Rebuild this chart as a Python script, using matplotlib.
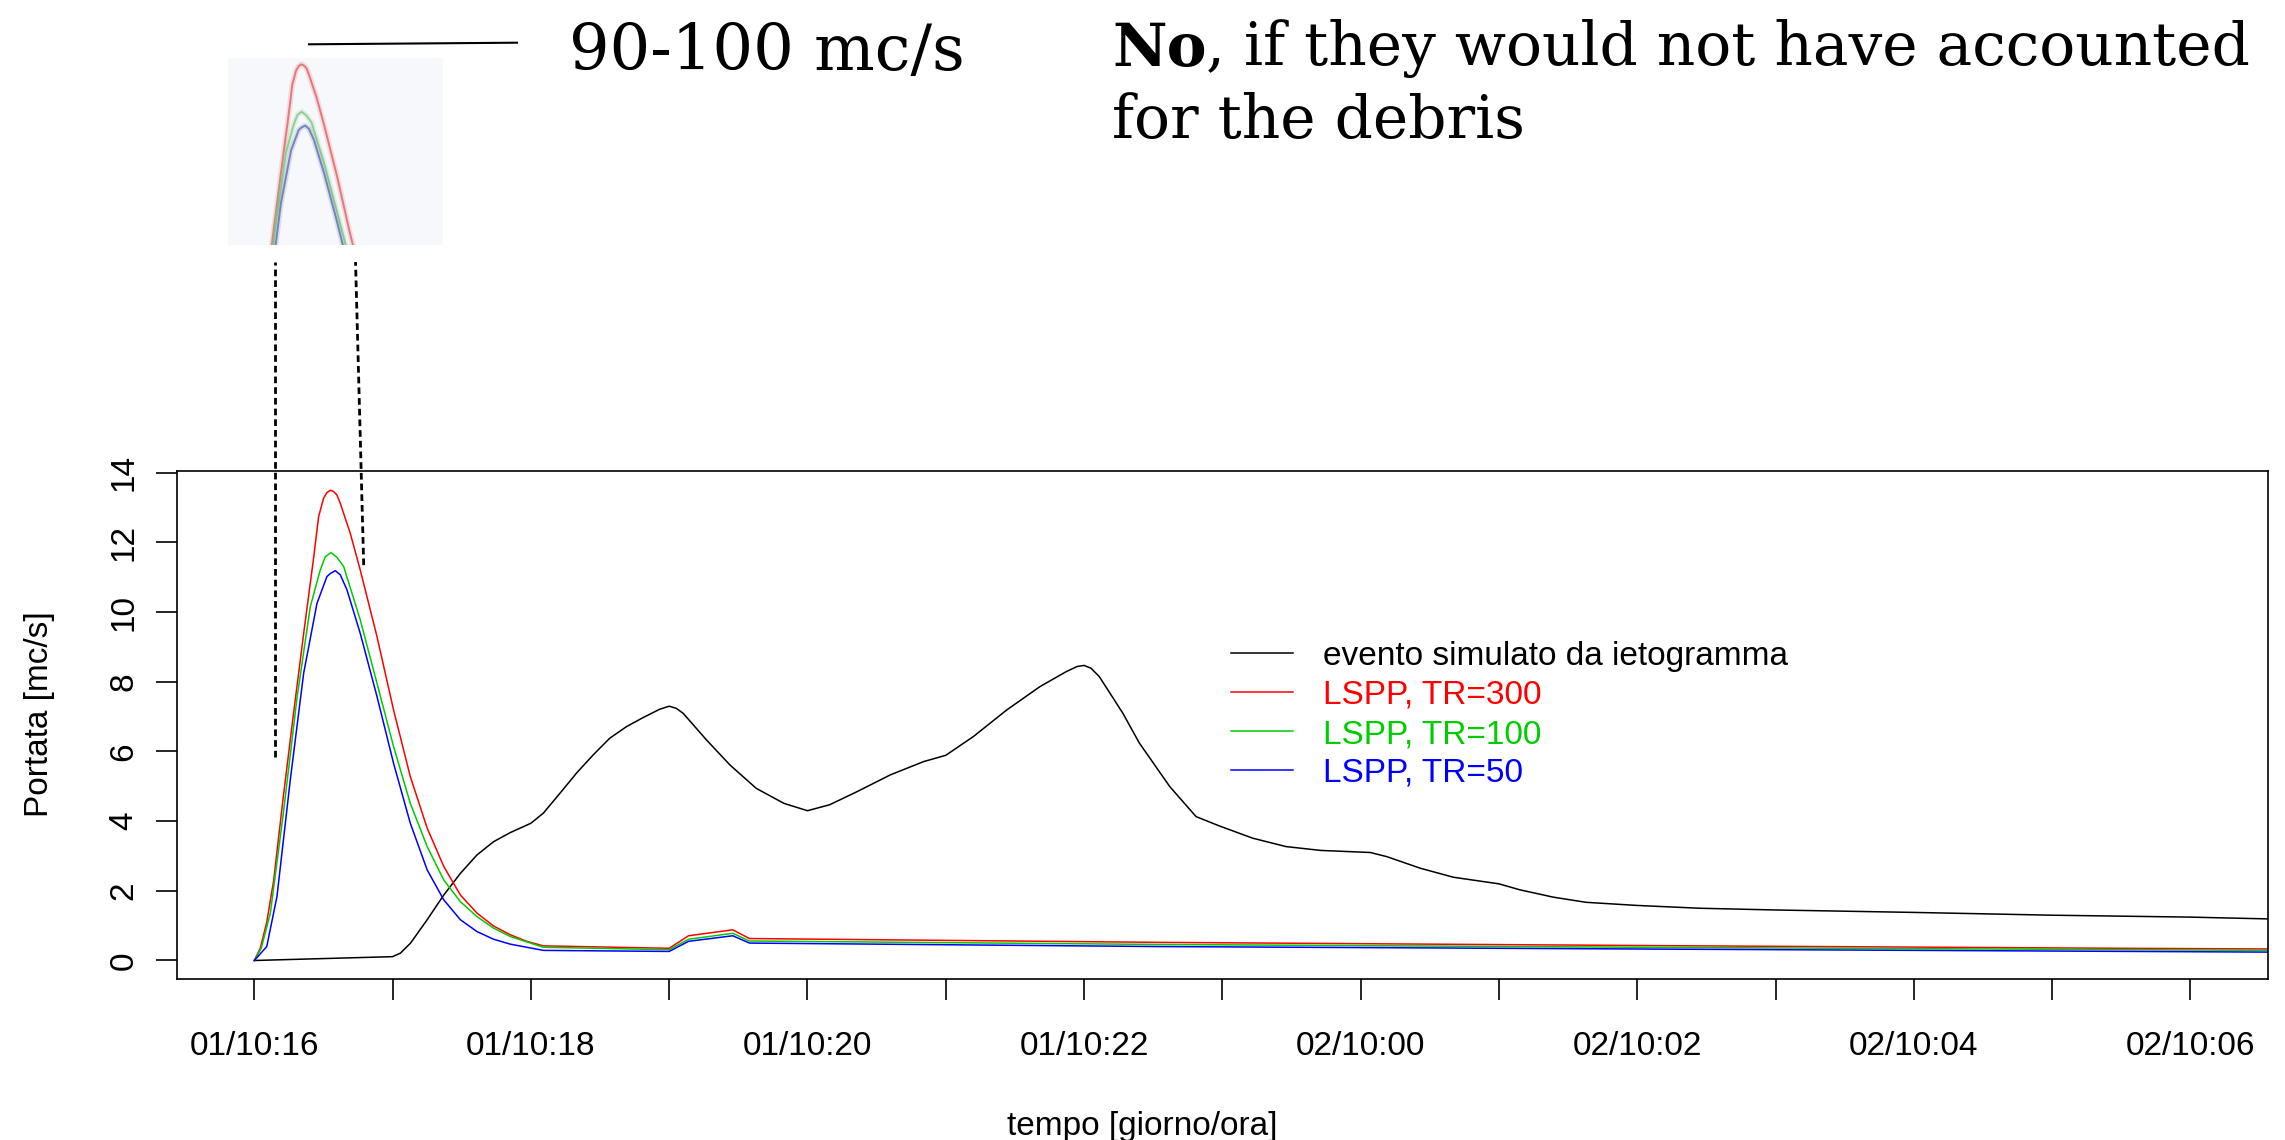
import matplotlib
matplotlib.use("Agg")
import matplotlib.pyplot as plt
from matplotlib.lines import Line2D

plt.rcParams['font.family'] = ['Liberation Sans', 'DejaVu Sans']

# hours counted from 01/10 00:00
black_t = [16.0, 17.0, 17.056, 17.13, 17.25, 17.37, 17.49, 17.61, 17.73, 17.85, 18.0, 18.09,
           18.21, 18.33, 18.45, 18.57, 18.69, 18.81, 18.93, 19.0, 19.05, 19.1, 19.27, 19.44,
           19.63, 19.83, 20.0, 20.16, 20.36, 20.6, 20.84, 21.0, 21.2, 21.44, 21.68, 21.87,
           21.95, 22.0, 22.05, 22.11, 22.28, 22.4, 22.62, 22.81, 22.98, 23.22, 23.46, 23.71,
           24.07, 24.19, 24.43, 24.67, 25.0, 25.15, 25.39, 25.63, 26.0, 26.45, 27.0, 28.0,
           29.0, 30.0, 30.6]
black_q = [0.0, 0.11, 0.21, 0.5, 1.17, 1.88, 2.5, 3.03, 3.41, 3.67, 3.94, 4.23,
           4.8, 5.38, 5.9, 6.38, 6.71, 6.97, 7.21, 7.3, 7.24, 7.1, 6.33, 5.61,
           4.94, 4.51, 4.3, 4.47, 4.85, 5.33, 5.71, 5.89, 6.43, 7.19, 7.86, 8.29,
           8.44, 8.47, 8.39, 8.15, 7.1, 6.24, 4.99, 4.13, 3.86, 3.51, 3.27, 3.16,
           3.1, 2.98, 2.65, 2.39, 2.2, 2.03, 1.82, 1.67, 1.58, 1.5, 1.45, 1.38,
           1.3, 1.245, 1.19]

red_t = [16.0, 16.043, 16.09, 16.14, 16.21, 16.284, 16.357, 16.43, 16.465, 16.501, 16.525,
         16.55, 16.574, 16.598, 16.622, 16.694, 16.766, 16.887, 17.007, 17.128, 17.25, 17.37,
         17.49, 17.61, 17.73, 17.85, 17.97, 18.09, 19.0, 19.14, 19.46, 19.58, 22.55, 26.0,
         29.5, 30.6]
red_q = [0.0, 0.35, 1.1, 2.3, 4.71, 7.1, 9.39, 11.59, 12.74, 13.27, 13.43,
         13.5, 13.46, 13.36, 13.12, 12.26, 11.21, 9.3, 7.19, 5.28, 3.8, 2.7,
         1.88, 1.36, 0.99, 0.74, 0.55, 0.42, 0.35, 0.71, 0.88, 0.63, 0.52, 0.43,
         0.35, 0.33]

green_t = [16.0, 16.05, 16.116, 16.21, 16.31, 16.405, 16.477, 16.513, 16.554, 16.598, 16.646,
           16.766, 16.887, 17.007, 17.128, 17.25, 17.37, 17.49, 17.61, 17.73, 17.85, 18.09,
           19.0, 19.14, 19.46, 19.58, 22.55, 26.0, 30.6]
green_q = [0.0, 0.35, 1.36, 4.23, 7.58, 10.16, 11.21, 11.59, 11.71, 11.57, 11.31,
           9.78, 7.96, 6.14, 4.51, 3.27, 2.31, 1.69, 1.26, 0.93, 0.69, 0.38,
           0.31, 0.61, 0.78, 0.56, 0.46, 0.38, 0.29]

blue_t = [16.0, 16.09, 16.164, 16.26, 16.357, 16.453, 16.525, 16.55, 16.586, 16.622, 16.67,
          16.766, 16.887, 17.007, 17.128, 17.25, 17.37, 17.49, 17.61, 17.73, 17.85, 18.09,
          19.0, 19.14, 19.46, 19.58, 22.55, 26.0, 30.6]
blue_q = [0.0, 0.4, 1.84, 5.18, 8.25, 10.25, 11.02, 11.11, 11.19, 11.07, 10.64,
          9.39, 7.58, 5.66, 3.94, 2.6, 1.74, 1.17, 0.83, 0.61, 0.47, 0.29,
          0.26, 0.55, 0.71, 0.5, 0.40, 0.33, 0.24]

series_labels = ['evento simulato da ietogramma', 'LSPP, TR=300', 'LSPP, TR=100', 'LSPP, TR=50']
series_colors = ['black', '#ff0000', '#00cd00', '#0000ff']

hour_ticks = list(range(16, 31))
hour_labels = ['01/10:16', '', '01/10:18', '', '01/10:20', '', '01/10:22', '',
               '02/10:00', '', '02/10:02', '', '02/10:04', '', '02/10:06']
y_ticks = [0, 2, 4, 6, 8, 10, 12, 14]

W, H = 2285, 1140
fig = plt.figure(figsize=(W / 100, H / 100), dpi=100)

ax = fig.add_axes([177 / W, 1 - 979.3 / H, (2268.3 - 177) / W, (979.3 - 471.4) / H])
series = [(black_t, black_q), (red_t, red_q), (green_t, green_q), (blue_t, blue_q)]
for (t, q), lab, col in zip(series, series_labels, series_colors):
    ax.plot(t, q, color=col, lw=1.1, label=lab, solid_joinstyle='round')

ax.set_xlim(15.441, 30.563)
ax.set_ylim(-0.54, 14.04)
ax.set_xticks(hour_ticks)
ax.set_xticklabels(hour_labels)
ax.set_yticks(y_ticks)
ax.set_yticklabels([str(v) for v in y_ticks], rotation=90, va='center')
ax.tick_params(axis='both', length=14.9, width=1.2, labelsize=24, direction='out')
ax.tick_params(axis='x', pad=22)
ax.tick_params(axis='y', pad=12)
for sp in ax.spines.values():
    sp.set_linewidth(1.2)

leg = ax.legend(loc='upper left', bbox_to_anchor=(1231 / W, 1 - 641 / H),
                bbox_transform=fig.transFigure, frameon=False, fontsize=24,
                handlelength=1.85, handletextpad=0.92, labelspacing=0.24,
                borderpad=0, borderaxespad=0)
for txt, col in zip(leg.get_texts(), series_colors):
    txt.set_color(col)

fig.text(0.5, 1 - 1127 / H, 'tempo [giorno/ora]', ha='center', va='center', fontsize=24)
fig.text(40 / W, 1 - 714 / H, 'Portata [mc/s]', ha='center', va='center',
         rotation=90, fontsize=24)

# dotted guides from the peak up to the zoomed picture
ax.plot([16.148, 16.148], [5.85, 20.05], color='black', lw=2,
        linestyle=(0, (2.4, 1.45)), clip_on=False)
ax.plot([16.791, 16.732], [11.35, 20.05], color='black', lw=2,
        linestyle=(0, (2.4, 1.45)), clip_on=False)

# zoomed picture of the peaks
ins = fig.add_axes([228 / W, 1 - 245 / H, 215 / W, 187 / H])
ins.set_facecolor('#f6f8fb')
for (t, q), col in zip(series[1:], ['#e06060', '#7cc87c', '#5a6fb0']):
    ins.plot(t, q, color=col, lw=4, alpha=0.18)
    ins.plot(t, q, color=col, lw=1.4, alpha=0.8)
ins.set_xlim(15.856, 17.892)
ins.set_ylim(6.68, 13.74)
ins.set_xticks([])
ins.set_yticks([])
for sp in ins.spines.values():
    sp.set_visible(False)

fig.add_artist(Line2D([309 / W, 517 / W], [1 - 44.3 / H, 1 - 42.7 / H],
                      transform=fig.transFigure, color='black', lw=1.5))
fig.text(569 / W, 1 - 70 / H, '90-100 mc/s', family='DejaVu Serif', fontsize=46,
         va='baseline', ha='left')

no_txt = fig.text(1112 / W, 1 - 66 / H, 'No', family='DejaVu Serif', fontsize=43,
                  fontweight='bold', va='baseline', ha='left')
ax.annotate(', if they would not have accounted', xy=(1, 0), xycoords=no_txt,
            family='DejaVu Serif', fontsize=43, va='bottom', ha='left',
            annotation_clip=False)
fig.text(1112 / W, 1 - 138 / H, 'for the debris', family='DejaVu Serif', fontsize=43,
         va='baseline', ha='left')

fig.savefig('out.png', dpi=100)
